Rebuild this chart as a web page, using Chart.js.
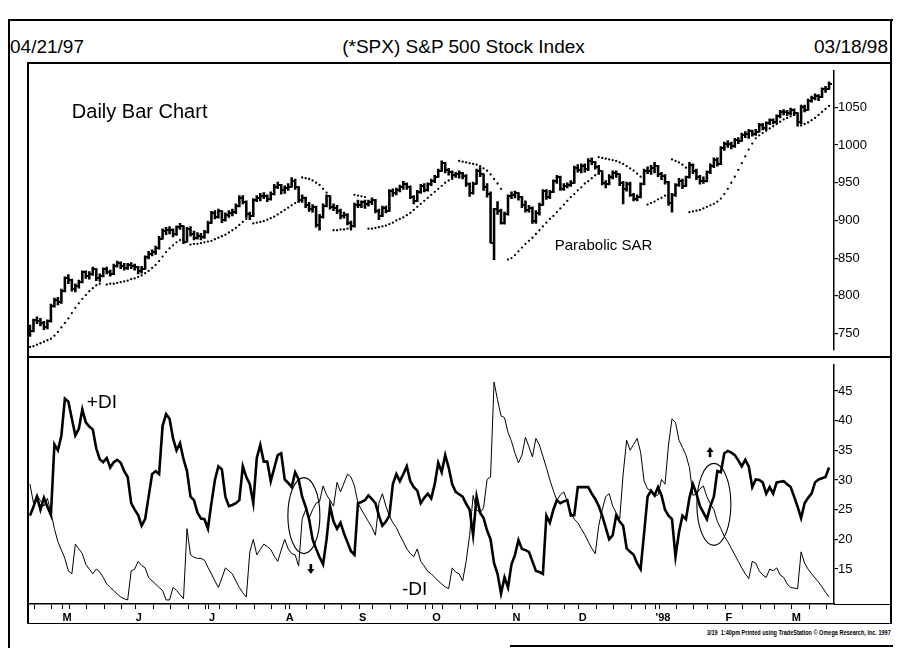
<!DOCTYPE html>
<html>
<head>
<meta charset="utf-8">
<title>(*SPX) S&amp;P 500 Stock Index</title>
<script src="https://cdn.jsdelivr.net/npm/chart.js@4.4.1/dist/chart.umd.min.js"></script>
<style>
  html, body { margin: 0; padding: 0; background: #fff; }
  #sheet { position: relative; width: 900px; height: 648px; overflow: hidden; background: #fff;
           font-family: "Liberation Sans", Arial, Helvetica, sans-serif; color: #000; }
  .rule { position: absolute; background: #000; }
  .label { position: absolute; white-space: nowrap; line-height: 1; }
  canvas { position: absolute; left: 0; }
  #stamp { right: 9px; top: 629px; font-size: 7px; font-weight: bold; transform: scaleX(0.79); transform-origin: right center; }
</style>
</head>
<body>
<div id="sheet">
  <!-- page frame -->
  <div class="rule" style="left:8px; top:19px; width:885px; height:2px;"></div>
  <div class="rule" style="left:8px; top:19px; width:1.5px; height:629px;"></div>
  <div class="rule" style="left:890px; top:19px; width:1.5px; height:605px;"></div>
  <div class="rule" style="left:510px; top:645px; width:383px; height:1.5px;"></div>
  <!-- panel box -->
  <div class="rule" style="left:27px; top:62px; width:864px; height:1.5px;"></div>
  <div class="rule" style="left:27px; top:62px; width:1.5px; height:562px;"></div>
  <div class="rule" style="left:27px; top:356px; width:864px; height:1.5px;"></div>
  <div class="rule" style="left:834px; top:603.5px; width:57px; height:1.5px;"></div>
  <div class="rule" style="left:27px; top:622.5px; width:864px; height:1.5px;"></div>

  <div class="label" style="left:10px; top:37px; font-size:19px;">04/21/97</div>
  <div class="label" style="left:0; width:927px; text-align:center; top:37px; font-size:19px;">(*SPX) S&amp;P 500 Stock Index</div>
  <div class="label" style="right:12px; top:37px; font-size:19px;">03/18/98</div>

  <canvas id="priceChart" width="900" height="294" style="top:63px;"></canvas>
  <canvas id="dmiChart" width="900" height="267" style="top:357px;"></canvas>

  <div class="label" id="stamp">3/19 &nbsp;1:40pm Printed using TradeStation © Omega Research, Inc. 1997</div>
</div>

<script>
// daily bars, 04/21/97 .. 03/18/98 (one entry per trading day)
const openPx = [
  759,753,768,767,764,758,766,787,794,792,
  806,823,821,809,813,818,831,826,829,835,
  823,826,835,832,829,840,843,840,837,841,
  839,838,833,836,851,856,858,863,876,886,
  887,887,882,891,892,872,889,882,877,880,
  878,884,897,910,905,912,901,907,910,911,
  919,930,925,908,906,927,930,933,932,929,
  935,945,947,940,943,945,953,944,927,930,
  920,915,918,894,905,919,932,918,917,913,
  906,907,897,892,921,921,924,922,924,927,
  912,906,917,913,939,936,940,944,948,945,
  931,926,938,946,940,948,953,958,966,976,
  967,964,960,961,963,959,948,937,949,965,
  961,944,935,870,915,912,897,908,932,934,
  936,931,921,914,917,899,910,921,939,931,
  938,952,958,942,946,947,950,970,967,972,
  968,979,977,971,965,950,948,958,963,961,
  950,942,949,934,928,931,948,966,965,970,
  972,962,959,951,923,934,947,953,946,957,
  974,966,958,953,952,964,972,980,975,996,
  1001,1002,999,1007,1006,1014,1015,1019,1015,1018,
  1027,1023,1029,1033,1030,1038,1044,1044,1043,1047,
  1042,1030,1051,1047,1059,1063,1065,1064,1074,1075
];
const highPx = [
  761,769,772,770,766,768,789,797,798,809,
  825,828,822,816,821,833,833,832,838,836,
  829,837,838,834,842,846,845,843,843,844,
  842,839,839,853,859,861,866,879,889,891,
  892,889,893,896,893,891,892,886,884,883,
  887,899,912,913,915,913,910,913,915,922,
  933,933,926,911,929,933,936,937,934,938,
  948,951,948,946,949,957,955,945,934,931,
  924,921,919,908,922,934,933,922,920,915,
  911,909,899,923,927,926,927,927,930,928,
  915,919,919,941,942,943,947,952,950,946,
  933,940,948,949,950,955,960,968,979,977,
  969,966,964,966,964,961,950,951,968,970,
  962,949,938,916,925,915,911,934,938,939,
  937,932,926,920,918,913,923,941,941,940,
  954,960,959,949,950,953,972,974,975,975,
  982,983,978,973,966,953,961,966,966,962,
  952,951,951,936,934,950,968,971,973,977,
  973,964,961,952,936,949,956,955,959,977,
  975,968,960,958,966,975,983,983,998,1004,
  1006,1004,1009,1010,1016,1018,1021,1020,1021,1029,
  1029,1031,1035,1035,1040,1046,1047,1046,1049,1048,
  1043,1053,1053,1061,1065,1068,1067,1076,1078,1084
];
const lowPx = [
  746,752,763,760,755,756,765,785,788,790,
  805,816,806,805,810,817,823,822,827,820,
  819,825,829,826,828,838,836,834,835,836,
  834,829,830,835,849,853,855,862,875,881,
  882,878,880,888,869,871,879,874,875,874,
  876,883,896,902,903,897,899,904,906,909,
  918,922,904,901,905,925,926,929,925,927,
  934,942,935,936,940,944,941,924,924,917,
  912,911,891,887,903,918,915,913,909,902,
  903,894,889,891,917,917,916,919,921,910,
  901,905,910,912,932,934,938,941,941,929,
  922,925,936,938,939,946,950,957,965,963,
  960,956,957,956,955,945,932,935,948,958,
  940,931,870,848,908,895,895,907,929,930,
  927,917,911,911,896,896,907,920,928,929,
  937,949,940,940,943,945,949,964,963,964,
  966,974,968,961,947,943,947,955,957,946,
  922,939,932,926,926,930,947,962,961,963,
  958,954,948,920,911,932,945,942,945,956,
  962,954,948,949,951,962,970,972,974,993,
  997,995,997,1002,1005,1010,1009,1012,1013,1017,
  1020,1020,1027,1028,1029,1036,1040,1039,1040,1039,
  1025,1028,1044,1046,1057,1060,1059,1063,1070,1074
];
const closePx = [
  753,768,767,764,758,766,787,794,792,806,
  823,821,809,813,818,831,826,829,835,823,
  826,835,832,829,840,843,840,837,841,839,
  838,833,836,851,856,858,863,876,886,887,
  887,882,891,892,872,889,882,877,880,878,
  884,897,910,905,912,901,907,910,911,919,
  930,925,908,906,927,930,933,932,929,935,
  945,947,940,943,945,953,944,927,930,920,
  915,918,894,905,919,932,918,917,913,906,
  907,897,892,921,921,924,922,924,927,912,
  906,917,913,939,936,940,944,948,945,931,
  926,938,946,940,948,953,958,966,976,967,
  964,960,961,963,959,948,937,949,965,961,
  944,935,870,915,912,897,908,932,934,936,
  931,921,914,917,899,910,921,939,931,938,
  952,958,942,946,947,950,970,967,972,968,
  979,977,971,965,950,948,958,963,961,950,
  942,949,934,928,931,948,966,965,970,972,
  962,959,951,923,934,947,953,946,957,974,
  966,958,953,952,964,972,980,975,996,1001,
  1002,999,1007,1006,1014,1015,1019,1015,1018,1027,
  1023,1029,1033,1030,1038,1044,1044,1043,1047,1042,
  1030,1051,1047,1059,1063,1065,1064,1074,1075,1081
];
// parabolic SAR, null where the stop flips sides
const sarPx = [
  732,733,735,737,739,741,743,747,752,758,
  764,770,777,784,790,796,801,806,810,814,
  816,null,815,816,816,817,818,819,820,822,
  823,825,827,830,833,837,841,846,852,858,
  863,867,871,874,null,null,868,869,869,870,
  871,872,873,875,877,879,881,884,887,890,
  894,898,902,null,896,897,898,899,901,903,
  905,908,911,914,917,920,923,null,957,956,
  955,953,950,947,942,937,null,887,887,888,
  888,889,888,934,933,932,931,889,889,890,
  891,892,893,895,897,900,902,904,907,910,
  914,918,922,926,930,934,938,942,946,950,
  953,955,null,979,978,977,976,975,974,972,
  969,966,961,955,949,942,null,848,850,854,
  859,864,869,873,877,882,887,892,897,902,
  906,911,916,921,926,931,935,940,944,949,
  952,956,960,984,983,982,981,980,979,977,
  975,972,969,966,962,958,null,921,923,925,
  928,930,933,null,981,979,977,974,970,911,
  912,913,914,916,918,920,922,925,929,935,
  942,950,958,967,976,985,994,1002,1009,1013,
  1016,1019,1022,1025,1028,1031,1034,1036,1038,null,
  null,1026,1028,1030,1033,1036,1040,1044,1048,1052
];
// directional movement lines
const plusDI = [
  24.0,25.5,27.2,25.0,27.0,25.5,24.1,36.0,35.0,37.5,
  43.7,43.2,40.3,37.5,38.6,41.9,39.7,39.0,38.5,35.3,
  33.5,33.0,33.7,32.1,33.0,33.4,32.9,31.5,30.5,26.1,
  25.0,24.1,22.3,23.4,27.2,31.0,31.5,31.0,39.1,41.1,
  40.3,37.0,35.0,36.2,33.5,31.5,27.2,26.6,24.5,23.5,
  23.4,21.8,26.1,30.0,32.3,31.8,27.2,25.6,25.8,26.1,
  26.6,32.3,30.5,29.3,26.1,33.7,35.9,33.1,33.1,29.8,
  32.0,34.2,34.5,30.1,29.5,28.8,31.3,30.1,27.2,25.5,
  23.4,20.0,18.4,17.0,15.8,20.0,25.6,23.0,21.8,22.8,
  21.0,19.5,18.0,17.4,26.1,26.3,26.6,27.4,26.8,26.1,
  24.0,22.3,23.0,24.0,29.3,31.0,29.8,31.0,32.3,29.8,
  28.8,28.2,26.1,27.0,27.7,26.9,29.3,32.9,31.3,34.2,
  32.1,29.3,28.0,27.6,27.2,26.0,25.0,20.7,27.2,24.5,
  23.6,21.5,20.0,16.0,14.2,10.9,13.6,11.9,15.8,17.4,
  19.9,18.4,18.2,17.9,16.3,14.7,14.5,14.2,24.0,22.8,
  25.0,26.6,26.1,26.4,26.6,24.0,24.1,28.8,28.8,28.8,
  28.8,27.7,26.8,25.6,24.0,22.0,20.0,20.7,24.0,23.0,
  22.3,18.5,17.9,17.4,16.0,15.0,21.0,27.2,28.2,27.4,
  28.8,27.4,25.0,24.0,23.4,17.1,21.2,24.0,23.4,27.0,
  29.3,27.7,25.6,24.5,23.4,25.6,27.2,31.5,31.3,34.5,
  34.9,34.6,34.2,33.3,32.3,33.4,32.3,28.8,30.1,30.0,
  29.6,27.7,28.8,27.7,29.6,29.7,29.8,29.3,28.8,27.2,
  25.5,23.6,26.1,27.0,27.7,29.6,30.1,30.3,30.5,32.1
];
const minusDI = [
  29.3,26.1,27.5,26.5,25.6,26.9,24.5,21.8,19.6,18.2,
  16.8,14.7,14.2,19.2,18.4,17.6,15.8,15.0,14.2,15.0,
  14.5,13.6,12.5,11.9,11.4,10.8,10.3,10.0,9.8,14.7,
  15.0,16.3,15.6,15.2,13.6,13.0,12.5,11.9,11.4,9.8,
  9.8,11.9,11.4,10.7,10.0,21.8,17.4,17.0,16.8,16.8,
  16.5,15.3,14.2,13.0,11.9,13.5,15.2,14.7,14.2,13.0,
  11.9,11.0,10.3,17.9,20.0,17.4,18.3,19.2,18.8,18.3,
  17.2,16.3,18.2,20.0,18.4,17.6,17.4,15.5,23.4,25.0,
  23.6,25.0,26.1,26.4,29.0,27.5,26.6,25.6,29.6,28.0,
  29.5,31.0,30.5,29.0,26.1,25.0,24.0,23.0,22.0,20.7,
  26.1,27.7,25.6,24.0,22.8,22.0,20.7,19.6,18.4,17.6,
  17.1,18.4,16.3,15.5,14.6,14.2,13.6,13.0,12.5,12.0,
  11.7,15.2,14.5,14.2,13.0,16.3,20.7,27.4,25.0,24.5,
  25.3,30.1,30.5,46.5,43.5,40.8,40.5,38.0,36.5,34.5,
  32.9,34.2,37.2,35.6,33.9,37.0,35.9,34.0,32.1,30.0,
  28.2,26.6,27.5,28.0,26.4,24.5,23.4,22.8,21.8,20.8,
  19.6,18.5,17.6,22.3,25.0,27.2,27.7,25.6,24.5,23.4,
  31.0,36.7,35.0,36.0,37.0,34.7,29.8,28.5,28.2,27.2,
  27.5,30.1,29.3,35.9,40.3,39.7,36.7,35.5,34.2,32.1,
  27.4,27.7,28.5,29.0,27.2,26.0,25.0,23.0,21.8,20.5,
  19.6,18.5,17.4,16.3,15.2,14.2,13.4,16.3,16.0,14.7,
  14.0,13.6,15.0,14.7,15.2,14.0,13.6,12.5,11.9,11.8,
  11.7,17.9,16.0,15.0,14.2,13.5,12.8,12.0,11.1,10.3
];

const priceTicks = [750, 800, 850, 900, 950, 1000, 1050];
const diTicks = [15, 20, 25, 30, 35, 40, 45];
// first trading day of each month, and the other Mondays
const monthStarts = [8, 29, 50, 72, 93, 114, 137, 156, 178, 198, 217];
const monthLabels = ['M', 'J', 'J', 'A', 'S', 'O', 'N', 'D', "'98", 'F', 'M'];
const weekStarts = [0, 5, 10, 15, 20, 25, 34, 39, 44, 49, 53, 58, 63, 68, 73, 78, 83, 88,
                    97, 102, 107, 112, 117, 122, 127, 132, 142, 147, 152, 161, 166, 171,
                    175, 179, 184, 189, 193, 203, 208, 212, 222, 227];

const X_MIN = -0.57, X_MAX = 230.43;
const TICK_NUDGE = 1.3;
const FONT = '"Liberation Sans", Arial, sans-serif';

const pts = arr => arr.map((v, i) => ({ x: i, y: v }));

// little horizontal ticks for the open (left) and close (right) of each bar
function barTick(side) {
  const c = document.createElement('canvas');
  c.width = 6; c.height = 2;
  const g = c.getContext('2d');
  g.fillStyle = '#000';
  g.fillRect(side === 'open' ? 0 : 3, 0, 3, 2);
  return c;
}

const rightAxis = (min, max, values) => ({
  position: 'right', min, max,
  afterBuildTicks: s => { s.ticks = values.map(value => ({ value })); },
  afterFit: s => { s.width = 58; },
  grid: { drawOnChartArea: false, tickLength: 4, color: '#000', lineWidth: 1.2 },
  border: { color: '#000', width: 1.5 },
  ticks: { color: '#000', padding: 0, font: { family: FONT, size: 13 }, callback: v => String(v) }
});

// free text, circles and arrows placed in data coordinates
const notes = {
  id: 'notes',
  afterDatasetsDraw(chart, args, opts) {
    const { ctx, scales: { x, y } } = chart;
    ctx.save();
    ctx.fillStyle = '#000';
    ctx.strokeStyle = '#000';
    (opts.texts || []).forEach(t => {
      ctx.font = t.font;
      ctx.textBaseline = 'alphabetic';
      ctx.fillText(t.text, x.getPixelForValue(t.at), y.getPixelForValue(t.level));
    });
    (opts.rings || []).forEach(r => {
      ctx.lineWidth = 1.1;
      ctx.beginPath();
      ctx.ellipse(x.getPixelForValue(r.at), y.getPixelForValue(r.level), r.rx, r.ry, 0, 0, Math.PI * 2);
      ctx.stroke();
    });
    (opts.arrows || []).forEach(a => {
      const px = x.getPixelForValue(a.at), py = y.getPixelForValue(a.level);
      const d = a.dir === 'down' ? 1 : -1;
      ctx.fillRect(px - 1.3, d > 0 ? py - 5 : py, 2.6, 5);
      ctx.beginPath();
      ctx.moveTo(px - 3.5, py);
      ctx.lineTo(px + 3.5, py);
      ctx.lineTo(px, py + d * 5);
      ctx.closePath();
      ctx.fill();
    });
    ctx.restore();
  }
};

new Chart(document.getElementById('priceChart'), {
  type: 'bar',
  data: {
    datasets: [
      { type: 'bar', data: highPx.map((h, i) => ({ x: i, y: [lowPx[i], h] })),
        backgroundColor: '#000', borderWidth: 0, barThickness: 1.9, grouped: false },
      { type: 'line', data: pts(openPx), showLine: false, pointStyle: barTick('open'), pointRadius: 3 },
      { type: 'line', data: pts(closePx), showLine: false, pointStyle: barTick('close'), pointRadius: 3 },
      { type: 'line', data: pts(sarPx), showLine: false, pointRadius: 1.15,
        pointBackgroundColor: '#000', pointBorderWidth: 0 }
    ]
  },
  options: {
    responsive: false, animation: false, events: [], devicePixelRatio: 1,
    layout: { padding: { left: 28, right: 8, top: 0, bottom: 0 } },
    plugins: {
      legend: { display: false }, tooltip: { enabled: false },
      notes: {
        texts: [
          { text: 'Daily Bar Chart', at: 12.0, level: 1036, font: '20px ' + FONT },
          { text: 'Parabolic SAR', at: 150.4, level: 861, font: '15px ' + FONT }
        ]
      }
    },
    scales: {
      x: { type: 'linear', min: X_MIN, max: X_MAX, display: false, offset: false, grid: { offset: false } },
      y: rightAxis(729.1, 1098.6, priceTicks)
    }
  },
  plugins: [notes]
});

new Chart(document.getElementById('dmiChart'), {
  type: 'line',
  data: {
    datasets: [
      { label: '+DI', data: pts(plusDI), borderColor: '#000', borderWidth: 2.6, pointRadius: 0, tension: 0 },
      { label: '-DI', data: pts(minusDI), borderColor: '#000', borderWidth: 1, pointRadius: 0, tension: 0 }
    ]
  },
  options: {
    responsive: false, animation: false, events: [], devicePixelRatio: 1,
    layout: { padding: { left: 28, right: 8, top: 0, bottom: 0 } },
    plugins: {
      legend: { display: false }, tooltip: { enabled: false },
      notes: {
        texts: [
          { text: '+DI', at: 16.3, level: 42.2, font: '19px ' + FONT },
          { text: '-DI', at: 106.6, level: 10.6, font: '19px ' + FONT }
        ],
        rings: [
          { at: 78.5, level: 24.0, rx: 16, ry: 38 },
          { at: 196.0, level: 25.9, rx: 17, ry: 41 }
        ],
        arrows: [
          { at: 80.5, level: 15.0, dir: 'down' },
          { at: 194.9, level: 34.7, dir: 'up' }
        ]
      }
    },
    scales: {
      x: {
        type: 'linear', position: 'bottom', min: X_MIN, max: X_MAX, offset: false,
        afterBuildTicks: s => {
          s.ticks = weekStarts.concat(monthStarts).sort((a, b) => a - b).map(i => ({ value: i + TICK_NUDGE }));
        },
        afterFit: s => { s.height = 20; },
        grid: { drawOnChartArea: false, offset: false, tickLength: 5, color: '#000', lineWidth: 1 },
        border: { color: '#000', width: 1.5 },
        ticks: {
          autoSkip: false, maxRotation: 0, align: 'start', padding: 2, color: '#000',
          font: { family: FONT, size: 11, weight: 'bold' },
          callback: v => {
            const k = monthStarts.indexOf(Math.round(v - TICK_NUDGE));
            return k >= 0 ? monthLabels[k] : '';
          }
        }
      },
      y: rightAxis(9.12, 49.4, diTicks)
    }
  },
  plugins: [notes]
});
</script>
</body>
</html>
